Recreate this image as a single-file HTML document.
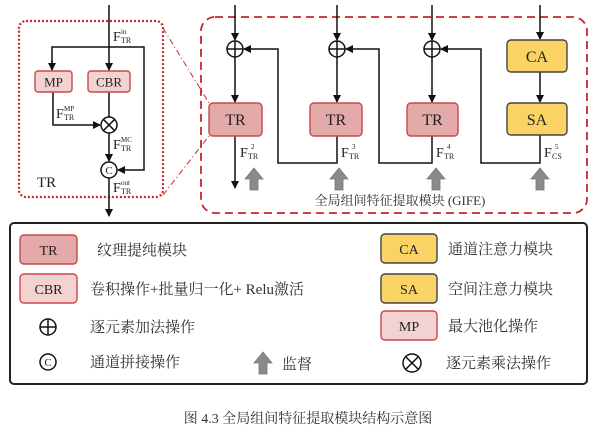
<!DOCTYPE html>
<html><head><meta charset="utf-8"><style>
html,body{margin:0;padding:0;background:#fff;}
svg{display:block;}
text{font-family:"Liberation Serif","Noto Serif CJK SC",serif;fill:#222;}
.cn{font-family:"Liberation Serif","Noto Serif CJK SC",serif;fill:#333;}
</style></head><body>
<svg width="596" height="435" viewBox="0 0 596 435" xmlns="http://www.w3.org/2000/svg">
<defs>
<marker id="a" markerWidth="8" markerHeight="8" refX="7" refY="4" orient="auto" markerUnits="userSpaceOnUse">
<path d="M0,0 L8,4 L0,8 Z" fill="#111"/></marker>
<g id="up"><path d="M0,-11 L9,0 L4,0 L4,11 L-4,11 L-4,0 L-9,0 Z" fill="#8a8a8a" stroke="#777" stroke-width="0.8"/></g>
</defs>
<g stroke="#111" stroke-width="1.5" fill="none">
<rect x="19" y="21" width="144" height="176" rx="7" stroke="#c8242b" stroke-width="2.2" stroke-dasharray="2,2"/>
<line x1="163" y1="28" x2="209" y2="103" stroke="#c8242b" stroke-width="1" stroke-dasharray="6,3,1,3"/>
<line x1="163" y1="195" x2="209" y2="136" stroke="#c8242b" stroke-width="1" stroke-dasharray="6,3,1,3"/>
<line x1="109" y1="5" x2="109" y2="70" marker-end="url(#a)"/>
<polyline points="52,70 52,47 144,47 144,170 118,170" marker-end="url(#a)"/>
<line x1="52" y1="60" x2="52" y2="70" marker-end="url(#a)"/>
<line x1="109" y1="92" x2="109" y2="117"/>
<polyline points="53,92 53,125 100,125" marker-end="url(#a)"/>
<circle cx="109" cy="125" r="8"/>
<line x1="103.3" y1="119.3" x2="114.7" y2="130.7"/><line x1="114.7" y1="119.3" x2="103.3" y2="130.7"/>
<line x1="109" y1="133" x2="109" y2="161" marker-end="url(#a)"/>
<circle cx="109" cy="170" r="8"/>
<line x1="109" y1="178" x2="109" y2="216" marker-end="url(#a)"/>
<rect x="201" y="17" width="386" height="196" rx="14" stroke="#c8242b" stroke-width="1.8" stroke-dasharray="8,5"/>
<line x1="235" y1="5" x2="235" y2="40" marker-end="url(#a)"/>
<line x1="337" y1="5" x2="337" y2="40" marker-end="url(#a)"/>
<line x1="432" y1="5" x2="432" y2="40" marker-end="url(#a)"/>
<line x1="540" y1="5" x2="540" y2="39" marker-end="url(#a)"/>
<circle cx="235" cy="49" r="8"/><line x1="227" y1="49" x2="243" y2="49"/><line x1="235" y1="41" x2="235" y2="57"/>
<circle cx="337" cy="49" r="8"/><line x1="329" y1="49" x2="345" y2="49"/><line x1="337" y1="41" x2="337" y2="57"/>
<circle cx="432" cy="49" r="8"/><line x1="424" y1="49" x2="440" y2="49"/><line x1="432" y1="41" x2="432" y2="57"/>
<line x1="235" y1="57" x2="235" y2="102" marker-end="url(#a)"/>
<line x1="337" y1="57" x2="337" y2="102" marker-end="url(#a)"/>
<line x1="432" y1="57" x2="432" y2="102" marker-end="url(#a)"/>
<line x1="540" y1="72" x2="540" y2="102" marker-end="url(#a)"/>
<line x1="235" y1="136" x2="235" y2="188" marker-end="url(#a)"/>
<polyline points="337,136 337,163 278,163 278,49 244,49" marker-end="url(#a)"/>
<polyline points="432,136 432,163 379,163 379,49 346,49" marker-end="url(#a)"/>
<polyline points="540,135 540,163 481,163 481,49 441,49" marker-end="url(#a)"/>
<rect x="10" y="223" width="577" height="161" rx="4" stroke="#222" stroke-width="2"/>
<circle cx="48" cy="327" r="8"/><line x1="40" y1="327" x2="56" y2="327"/><line x1="48" y1="319" x2="48" y2="335"/>
<circle cx="48" cy="362" r="8"/>
<circle cx="412" cy="363" r="9"/>
<line x1="405.6" y1="356.6" x2="418.4" y2="369.4"/><line x1="418.4" y1="356.6" x2="405.6" y2="369.4"/>
</g>
<g stroke-width="1.4">
<rect x="35" y="71" width="37" height="21" rx="3" fill="#f3d3d2" stroke="#c9474a"/>
<rect x="88" y="71" width="42" height="21" rx="3" fill="#f3d3d2" stroke="#c9474a"/>
<rect x="209" y="103" width="53" height="33" rx="4" fill="#e4aaa9" stroke="#c9474a"/>
<rect x="310" y="103" width="52" height="33" rx="4" fill="#e4aaa9" stroke="#c9474a"/>
<rect x="407" y="103" width="51" height="33" rx="4" fill="#e4aaa9" stroke="#c9474a"/>
<rect x="507" y="40" width="60" height="32" rx="4" fill="#f9d464" stroke="#444"/>
<rect x="507" y="103" width="60" height="32" rx="4" fill="#f9d464" stroke="#444"/>
<rect x="20" y="235" width="57" height="29" rx="4" fill="#e4aaa9" stroke="#c9474a"/>
<rect x="20" y="274" width="57" height="29" rx="4" fill="#f3d3d2" stroke="#c9474a"/>
<rect x="381" y="234" width="56" height="29" rx="4" fill="#f9d464" stroke="#444"/>
<rect x="381" y="274" width="56" height="29" rx="4" fill="#f9d464" stroke="#444"/>
<rect x="381" y="311" width="56" height="29" rx="4" fill="#f3d3d2" stroke="#c9474a"/>
</g>
<use href="#up" x="254" y="179"/><use href="#up" x="339" y="179"/><use href="#up" x="436" y="179"/><use href="#up" x="540" y="179"/>
<use href="#up" x="263" y="363"/>
<g font-size="13" text-anchor="middle">
<text x="53.5" y="86.5">MP</text><text x="109" y="86.5">CBR</text>
</g>
<text x="109" y="174" font-size="11" text-anchor="middle">C</text>
<text x="48" y="366" font-size="11" text-anchor="middle">C</text>
<g font-size="16" text-anchor="middle">
<text x="235.5" y="125">TR</text><text x="336" y="125">TR</text><text x="432.5" y="125">TR</text>
<text x="537" y="62">CA</text><text x="537" y="125">SA</text>
</g>
<text x="37" y="187" font-size="15">TR</text>
<g font-size="14">
<text x="113" y="41">F</text><text x="121" y="34" font-size="7">in</text><text x="121" y="43" font-size="8">TR</text>
<text x="56" y="118">F</text><text x="64" y="111" font-size="7">MP</text><text x="64" y="120" font-size="8">TR</text>
<text x="113" y="149">F</text><text x="121" y="142" font-size="7">MC</text><text x="121" y="151" font-size="8">TR</text>
<text x="113" y="192">F</text><text x="121" y="185" font-size="7">out</text><text x="121" y="194" font-size="8">TR</text>
<text x="240" y="157">F</text><text x="251" y="149" font-size="7">2</text><text x="248" y="159" font-size="8">TR</text>
<text x="341" y="157">F</text><text x="352" y="149" font-size="7">3</text><text x="349" y="159" font-size="8">TR</text>
<text x="436" y="157">F</text><text x="447" y="149" font-size="7">4</text><text x="444" y="159" font-size="8">TR</text>
<text x="544" y="157">F</text><text x="555" y="149" font-size="7">5</text><text x="552" y="159" font-size="8">CS</text>
</g>
<text x="400" y="205" font-size="13" text-anchor="middle" class="cn">全局组间特征提取模块 (GIFE)</text>
<g font-size="14" text-anchor="middle">
<text x="48.5" y="255">TR</text><text x="48.5" y="294">CBR</text>
<text x="409" y="254">CA</text><text x="409" y="294">SA</text><text x="409" y="331">MP</text>
</g>
<g font-size="15" class="cn">
<text x="97" y="255" class="cn">纹理提纯模块</text>
<text x="90" y="294" class="cn">卷积操作+批量归一化+ Relu激活</text>
<text x="90" y="332" class="cn">逐元素加法操作</text>
<text x="90" y="367" class="cn">通道拼接操作</text>
<text x="282" y="369" class="cn">监督</text>
<text x="448" y="254" class="cn">通道注意力模块</text>
<text x="448" y="294" class="cn">空间注意力模块</text>
<text x="448" y="331" class="cn">最大池化操作</text>
<text x="446" y="368" class="cn">逐元素乘法操作</text>
</g>
<text x="308" y="423" font-size="14" text-anchor="middle" class="cn">图 4.3  全局组间特征提取模块结构示意图</text>
</svg>
</body></html>
